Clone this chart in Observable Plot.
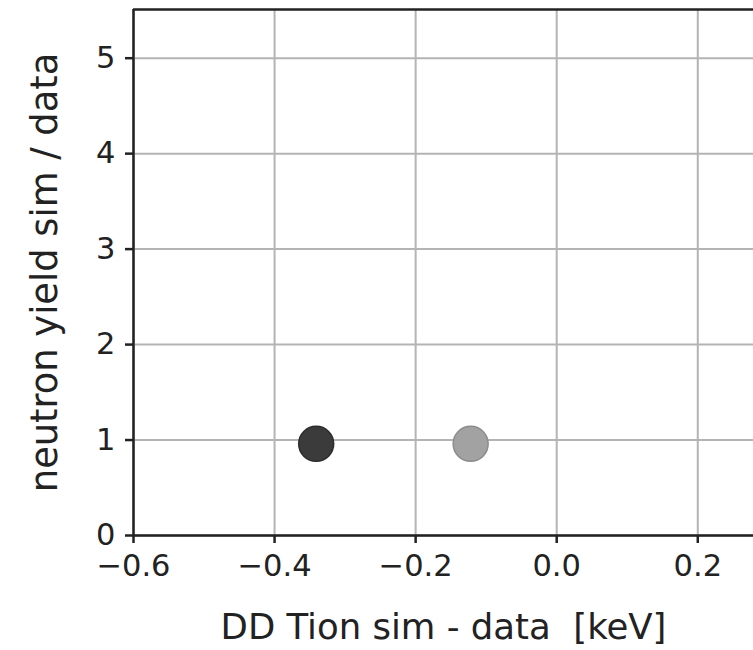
<!DOCTYPE html>
<html>
<head>
<meta charset="utf-8">
<script src="https://cdn.jsdelivr.net/npm/d3@7"></script>
<script src="https://cdn.jsdelivr.net/npm/@observablehq/plot@0.6"></script>
<style>
  html, body { margin: 0; padding: 0; background: #fff; overflow: hidden; }
  svg { display: block; }
</style>
</head>
<body>
<div id="chart"></div>
<script>
// Data
const runs = ["run A", "run B"];
const dTion = [-0.341, -0.122];      // DD Tion sim - data [keV]
const yieldRatio = [0.96, 0.96];     // neutron yield sim / data

const xTicks = [-0.6, -0.4, -0.2, 0.0, 0.2];
const yTicks = [0, 1, 2, 3, 4, 5];
const xDomain = [-0.6, 0.279];
const yDomain = [0, 5.51];

const points = runs.map((r, i) => ({run: r, x: dTion[i], y: yieldRatio[i]}));

const font = "DejaVu Sans";
const chart = Plot.plot({
  width: 753,
  height: 650,
  marginLeft: 133,
  marginRight: 0,
  marginTop: 9,
  marginBottom: 115,
  style: {fontFamily: font, background: "#fff", color: "#222"},
  x: {domain: xDomain},
  y: {domain: yDomain},
  color: {domain: runs, range: ["#3b3b3b", "#a2a2a2"]},
  marks: [
    Plot.gridX(xTicks, {stroke: "#b4b4b4", strokeOpacity: 1, strokeWidth: 2}),
    Plot.gridY(yTicks, {stroke: "#b4b4b4", strokeOpacity: 1, strokeWidth: 2}),
    Plot.axisX(xTicks, {
      tickSize: 8, tickPadding: 11, fontSize: 30.5, strokeWidth: 2.5, stroke: "#222",
      tickFormat: d => d3.format(".1f")(d).replace("-", "\u2212"),
      label: "DD Tion sim - data  [keV]", labelAnchor: "center", labelOffset: 103, labelArrow: "none"
    }),
    Plot.axisY(yTicks, {
      tickSize: 8, tickPadding: 10, fontSize: 30.5, strokeWidth: 2.5, stroke: "#222",
      tickFormat: d3.format("d"),
      label: "neutron yield sim / data", labelAnchor: "center", labelOffset: 103, labelArrow: "none"
    }),
    Plot.ruleX([xDomain[0]], {stroke: "#222", strokeWidth: 2.5}),
    Plot.ruleY([yDomain[0]], {stroke: "#222", strokeWidth: 2.5}),
    Plot.ruleY([yDomain[1]], {stroke: "#222", strokeWidth: 2.5}),
    Plot.dot(points, {x: "x", y: "y", fill: "run", stroke: d => d.run === runs[0] ? "#2c2c2c" : "#8c8c8c", strokeWidth: 1.5, r: 17.5})
  ]
});
// axis label font sizes; strip any arrows
chart.querySelectorAll("g[aria-label='x-axis label'] text").forEach(t => t.setAttribute("font-size", 35.5));
chart.querySelectorAll("g[aria-label='y-axis label'] text").forEach(t => t.setAttribute("font-size", 36.8));
chart.querySelectorAll("g[aria-label='x-axis label'] text, g[aria-label='y-axis label'] text").forEach(t => {
  t.textContent = t.textContent.replace(/\s*[\u2190-\u2193]\s*/g, "");
});
document.getElementById("chart").appendChild(chart);
</script>
</body>
</html>
